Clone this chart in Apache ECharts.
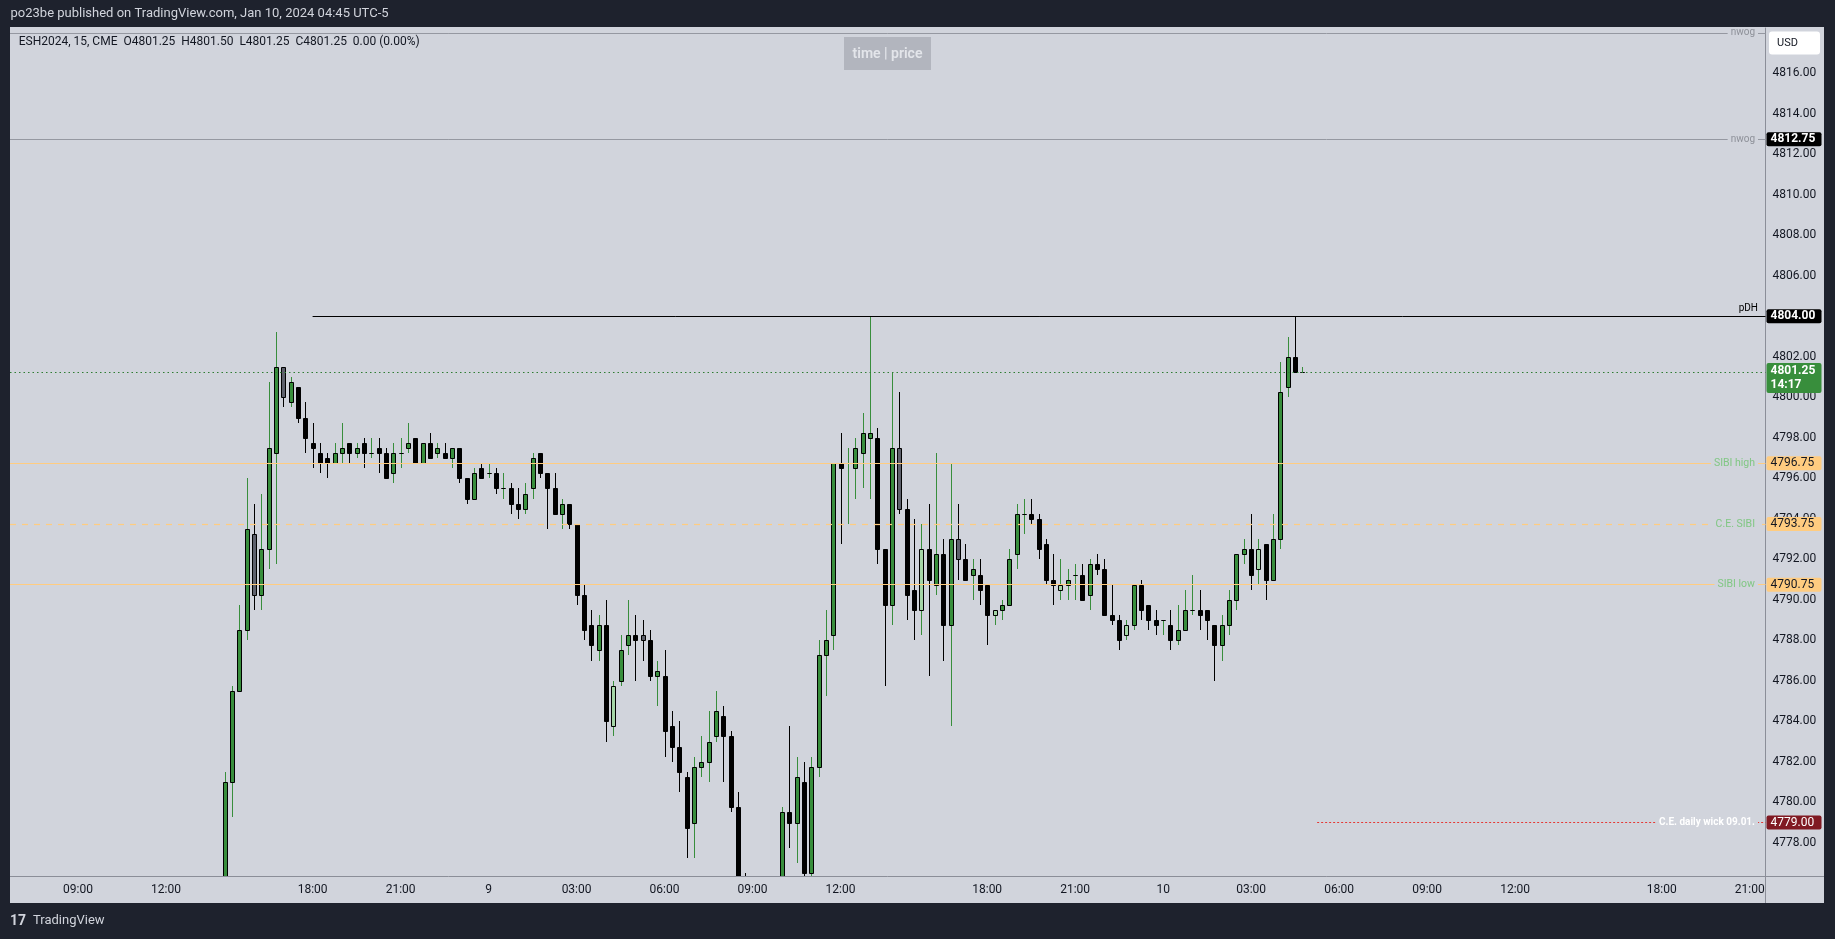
<!DOCTYPE html>
<html><head><meta charset="utf-8">
<script src="https://cdn.jsdelivr.net/npm/echarts@6/dist/echarts.min.js"></script>
<style>html,body{margin:0;padding:0;background:#1e222d;overflow:hidden}#c{width:1835px;height:939px}</style>
</head><body><div id="c"></div>
<script>
// ---- DATA ----
// bar index: 0 = Jan 8 09:00, 15-minute bars, daily CME break (17:00-18:00) removed
const barIndex = [20,21,22,23,24,25,26,27,28,29,30,31,32,33,34,35,36,37,38,39,40,41,42,43,44,45,46,47,48,49,
  50,51,52,53,54,55,56,57,58,59,60,61,62,63,64,65,66,67,68,69,70,71,72,73,74,75,76,77,78,79,
  80,81,82,83,84,85,86,87,88,89,90,91,96,97,98,99,100,101,102,103,104,105,106,107,108,109,
  110,111,112,113,114,115,116,117,118,119,120,121,122,123,124,125,126,127,128,129,130,131,132,133,134,135,136,137,138,139,
  140,141,142,143,144,145,146,147,148,149,150,151,152,153,154,155,156,157,158,159,160,161,162,163,164,165,166,167];
const opens = [4775.75,4781.0,4785.5,4788.5,4793.25,4790.25,4792.5,4797.25,4801.5,4799.75,4800.5,4799.0,4797.75,4797.25,4797.0,4796.75,4797.25,4797.75,4797.25,4797.75,4797.25,4797.5,4797.25,4796.25,4797.25,4797.5,4798.0,4796.75,4797.75,4797.25,
  4797.25,4797.0,4797.5,4796.0,4795.0,4796.5,4796.25,4796.25,4795.5,4795.5,4794.75,4794.5,4795.5,4797.25,4796.25,4795.5,4794.25,4794.75,4793.75,4790.25,4788.75,4787.5,4788.75,4783.75,4786.0,4787.75,4788.25,4788.25,4788.0,4786.25,
  4786.25,4783.75,4782.75,4781.25,4779.0,4781.75,4782.0,4783.25,4784.25,4783.25,4779.75,4775.75,4775.5,4779.5,4779.0,4781.0,4776.5,4781.75,4787.25,4788.25,4796.75,4796.75,4796.5,4797.25,4798.0,4798.0,
  4792.5,4789.75,4797.5,4794.5,4790.5,4789.5,4792.5,4790.75,4792.25,4788.75,4793.0,4792.0,4791.25,4791.25,4790.75,4789.25,4789.5,4789.75,4792.25,4794.25,4794.25,4794.0,4792.75,4791.0,4790.5,4790.75,4791.25,4791.25,4790.25,4791.75,
  4791.5,4789.25,4789.0,4788.25,4788.75,4790.75,4789.75,4789.0,4789.0,4788.75,4788.0,4788.5,4789.5,4789.5,4789.5,4788.75,4787.75,4788.75,4790.0,4792.25,4792.5,4791.5,4792.75,4791.0,4793.0,4800.5,4802.0,4801.25];
const closes = [4781.0,4785.5,4788.5,4793.5,4790.25,4792.5,4797.5,4801.5,4800.0,4800.75,4799.0,4798.0,4797.5,4796.75,4796.75,4797.25,4797.5,4797.25,4797.5,4797.25,4797.25,4797.25,4796.0,4797.25,4797.25,4797.75,4796.75,4797.75,4797.0,4797.5,
  4797.0,4797.5,4796.0,4795.0,4796.25,4796.0,4796.25,4795.5,4795.5,4794.75,4794.5,4795.25,4797.0,4796.25,4795.5,4794.25,4794.75,4793.75,4790.25,4788.5,4787.75,4788.75,4784.0,4785.75,4787.5,4788.25,4788.0,4788.0,4786.25,4786.5,
  4783.5,4782.75,4781.5,4778.75,4781.75,4782.0,4783.0,4784.5,4783.25,4779.75,4775.75,4775.0,4779.5,4779.0,4781.25,4776.5,4781.75,4787.25,4788.0,4796.75,4796.5,4796.75,4797.5,4798.25,4798.25,4792.5,
  4789.75,4797.5,4794.5,4790.25,4789.5,4792.5,4791.0,4792.25,4788.75,4793.0,4792.0,4791.0,4791.5,4790.5,4789.25,4789.5,4789.75,4792.0,4794.25,4794.25,4794.0,4792.5,4791.0,4790.75,4790.75,4791.0,4791.25,4790.0,4791.75,4791.5,
  4789.25,4789.0,4788.0,4788.75,4790.75,4789.5,4789.0,4788.75,4789.0,4788.0,4788.5,4789.5,4789.5,4789.25,4789.0,4787.75,4788.75,4790.0,4792.25,4792.5,4791.25,4792.5,4791.0,4793.0,4800.25,4802.0,4801.25,4801.25];
const lows = [4775.5,4779.25,4785.5,4788.0,4789.5,4789.5,4791.5,4791.75,4799.5,4799.5,4798.75,4797.25,4796.5,4796.25,4796.0,4796.75,4796.75,4796.75,4797.0,4796.5,4797.0,4796.25,4796.0,4795.75,4796.5,4797.25,4796.75,4796.75,4797.0,4797.0,
  4797.0,4796.5,4795.75,4794.75,4795.0,4796.0,4796.0,4795.25,4795.0,4794.25,4794.0,4794.25,4795.0,4796.0,4793.5,4794.25,4793.5,4793.5,4789.75,4788.0,4787.0,4787.0,4783.0,4783.25,4785.75,4787.25,4786.0,4787.0,4786.0,4784.75,
  4782.25,4782.0,4780.5,4777.25,4777.25,4781.25,4781.0,4783.0,4781.0,4779.5,4775.25,4774.5,4775.0,4777.75,4777.0,4776.25,4776.25,4781.25,4785.25,4787.5,4792.75,4793.75,4795.0,4795.5,4795.0,4791.75,
  4785.75,4788.75,4794.25,4789.0,4788.0,4788.25,4786.25,4790.25,4787.0,4783.75,4791.0,4791.0,4790.0,4789.75,4787.75,4788.75,4789.0,4789.75,4791.5,4793.25,4793.75,4792.0,4790.75,4789.75,4790.0,4790.0,4790.0,4790.0,4789.5,4791.25,
  4789.25,4788.75,4787.5,4788.0,4788.5,4789.0,4788.5,4788.25,4788.25,4787.5,4787.75,4788.5,4789.25,4788.5,4788.0,4786.0,4787.0,4788.25,4789.5,4791.75,4790.5,4790.75,4790.0,4791.0,4792.5,4800.0,4801.25,4801.25];
const highs = [4781.5,4785.75,4789.75,4796.0,4794.75,4795.25,4800.75,4803.25,4801.5,4801.0,4800.5,4799.75,4798.75,4797.75,4797.25,4797.75,4798.75,4797.75,4797.75,4798.0,4798.0,4798.0,4797.5,4797.75,4798.0,4798.75,4798.0,4797.75,4798.25,4797.75,
  4797.75,4797.5,4797.5,4796.0,4796.5,4796.75,4796.75,4796.5,4796.25,4795.75,4795.5,4795.75,4797.25,4797.25,4796.25,4796.25,4795.0,4794.75,4793.75,4790.75,4789.5,4789.25,4790.0,4786.0,4788.25,4790.0,4789.25,4789.0,4788.5,4787.0,
  4787.5,4784.5,4784.0,4781.5,4782.25,4783.25,4784.5,4785.5,4784.75,4783.5,4780.5,4776.5,4779.75,4783.75,4782.25,4782.0,4782.25,4788.0,4789.5,4796.75,4798.25,4797.5,4798.0,4799.25,4804.0,4798.5,
  4792.5,4801.25,4800.25,4795.0,4794.0,4793.75,4794.75,4797.25,4793.0,4796.75,4794.75,4792.75,4792.0,4792.0,4790.75,4789.5,4790.0,4792.5,4794.75,4795.0,4795.0,4794.25,4793.0,4792.25,4792.0,4791.5,4791.75,4791.75,4792.0,4792.25,
  4792.0,4790.75,4789.25,4789.0,4790.75,4791.0,4789.75,4789.5,4789.0,4789.5,4789.75,4790.5,4791.25,4790.5,4789.5,4788.75,4789.25,4790.5,4792.25,4793.0,4794.25,4793.0,4792.75,4794.25,4801.75,4803.0,4804.0,4801.5];
const greyBars = [24, 28, 77, 112, 120];
const lightBars = [73, 115, 125, 134, 143, 161];
const timeTickIndex = [0,12,32,44,56,68,80,92,104,124,136,148,160,172,184,196,216,228];
const timeTickLabels = ['09:00','12:00','18:00','21:00','9','03:00','06:00','09:00','12:00','18:00','21:00','10','03:00','06:00','09:00','12:00','18:00','21:00'];
const priceTicks = [4778,4780,4782,4784,4786,4788,4790,4792,4794,4796,4798,4800,4802,4804,4806,4808,4810,4812,4814,4816];
const levelNames = ['nwog','nwog','pDH','SIBI high','C.E. SIBI','SIBI low','C.E. daily wick 09.01.'];
const levelPrices = [4818.0, 4812.75, 4804.0, 4796.75, 4793.75, 4790.75, 4779.0];
const levelStart = [null, null, 32, null, null, null, 169];
const lastPrice = 4801.25;
const countdown = '14:17';
const headerText = 'po23be published on TradingView.com, Jan 10, 2024 04:45 UTC-5';
const legendText = 'ESH2024, 15, CME  O4801.25  H4801.50  L4801.25  C4801.25  0.00 (0.00%)';

// ---- STYLE ----
const FONT = 'Roboto, "Liberation Sans", sans-serif';
const PANEL = '#d1d4dc', DARK = '#1e222d', GREEN = '#388e3c', LIGHT = '#a5d6a7', GREY = '#5d606b', INK = '#131722';
const ORANGE = '#ffcc80', LBLGREEN = '#81c784', DRED = '#801922';
const X_MIN = -9.27, X_MAX = 230.15, Y_MIN = 4776.36, Y_MAX = 4818.24;

const candles = barIndex.map((x, i) => [x, opens[i], closes[i], lows[i], highs[i],
  greyBars.includes(x) ? 1 : (lightBars.includes(x) ? 2 : 0)]);

function renderItem(params, api) {
  const x = api.value(0), o = api.value(1), c = api.value(2), l = api.value(3), h = api.value(4), v = api.value(5);
  const po = api.coord([x, o]), pc = api.coord([x, c]), pl = api.coord([x, l]), ph = api.coord([x, h]);
  const cx = Math.round(po[0]);
  const up = c >= o;
  let fill = up ? GREEN : '#000';
  if (v === 1) fill = GREY; else if (v === 2) fill = LIGHT;
  const wick = up ? GREEN : '#000';
  const top = Math.round(Math.min(po[1], pc[1])), bot = Math.round(Math.max(po[1], pc[1]));
  return { type: 'group', children: [
    { type: 'line', shape: { x1: cx + 0.5, y1: Math.round(ph[1]), x2: cx + 0.5, y2: Math.round(pl[1]) }, style: { stroke: wick, lineWidth: 1 } },
    { type: 'rect', shape: { x: cx - 1.5, y: top + 0.5, width: 4, height: bot - top }, style: { fill: fill, stroke: '#000', lineWidth: 1 } }
  ]};
}

function axisBox(bg, fg, bold) {
  return { show: true, position: 'end', distance: 1, backgroundColor: bg, color: fg, fontFamily: FONT,
    fontSize: 12, fontWeight: bold ? 'bold' : 'normal', padding: [1, 4, 1, 4], width: 47, borderRadius: 2 };
}
function lvLine(i) {
  if (levelStart[i] === null) return { yAxis: levelPrices[i] };
  return [{ coord: [levelStart[i], levelPrices[i]] }, { coord: [X_MAX, levelPrices[i]] }];
}
function withStyle(item, lineStyle, label) {
  if (Array.isArray(item)) { item[0].lineStyle = lineStyle; item[0].label = label; return item; }
  item.lineStyle = lineStyle; item.label = label; return item;
}
const fmt = v => v.toFixed(2);
const markData = [
  withStyle(lvLine(0), { color: '#9598a1', width: 1, type: 'solid' }, { show: false }),
  withStyle(lvLine(1), { color: '#9598a1', width: 1, type: 'solid' }, Object.assign(axisBox('#000', '#fff', true), { formatter: fmt(levelPrices[1]) })),
  withStyle(lvLine(2), { color: '#000', width: 1, type: 'solid' }, Object.assign(axisBox('#000', '#fff', true), { formatter: fmt(levelPrices[2]) })),
  withStyle({ yAxis: lastPrice }, { color: '#2e7d32', width: 1, type: [1.5, 3] },
    Object.assign(axisBox(GREEN, '#fff', true), { formatter: fmt(lastPrice) + '\n' + countdown, lineHeight: 14, padding: [1, 4, 1, 4], offset: [0, 6] })),
  withStyle(lvLine(3), { color: ORANGE, width: 1.2, type: 'solid' }, Object.assign(axisBox(ORANGE, INK, false), { formatter: fmt(levelPrices[3]) })),
  withStyle(lvLine(4), { color: ORANGE, width: 1.2, type: [6, 6] }, Object.assign(axisBox(ORANGE, INK, false), { formatter: fmt(levelPrices[4]) })),
  withStyle(lvLine(5), { color: ORANGE, width: 1.2, type: 'solid' }, Object.assign(axisBox(ORANGE, INK, false), { formatter: fmt(levelPrices[5]) })),
  withStyle(lvLine(6), { color: '#e53935', width: 1, type: [2, 2] }, Object.assign(axisBox(DRED, '#fff', false), { formatter: fmt(levelPrices[6]) }))
];

const chart = echarts.init(document.getElementById('c'), null, { renderer: 'canvas' });
chart.setOption({
  animation: false,
  backgroundColor: PANEL,
  textStyle: { fontFamily: FONT },
  grid: { left: 10, right: 69.5, top: 28, bottom: 63, containLabel: false },
  xAxis: {
    type: 'value', min: X_MIN, max: X_MAX,
    axisLine: { show: true, onZero: false, lineStyle: { color: '#8b8e98', width: 1 } },
    axisTick: { show: false }, splitLine: { show: false },
    axisLabel: { customValues: timeTickIndex, formatter: v => timeTickLabels[timeTickIndex.indexOf(v)],
      color: INK, fontSize: 12, margin: 8, fontFamily: FONT }
  },
  yAxis: {
    type: 'value', position: 'right', min: Y_MIN, max: Y_MAX,
    axisLine: { show: true, onZero: false, lineStyle: { color: '#8b8e98', width: 1 } },
    axisTick: { show: false }, splitLine: { show: false },
    axisLabel: { customValues: priceTicks, formatter: v => v.toFixed(2), color: INK, fontSize: 12, margin: 7, fontFamily: FONT }
  },
  series: [
    { type: 'line', data: [], silent: true, z: 3,
      markLine: { silent: true, symbol: ['none', 'none'], animation: false, precision: 2, data: markData } },
    { type: 'custom', renderItem: renderItem, data: candles, clip: true, z: 4,
      encode: { x: 0, y: [1, 2, 3, 4] } }
  ]
});

// overlay texts positioned through the library's scale
const yPix = p => chart.convertToPixel({ yAxisIndex: 0 }, p);
const LBL_RIGHT = 1758;
const lineLabels = [];
const lblStyle = [
  { fill: '#8e9199', fontSize: 10, bg: true, bold: false },
  { fill: '#8e9199', fontSize: 10, bg: true, bold: false },
  { fill: '#000', fontSize: 10, bg: false, bold: false, above: true },
  { fill: LBLGREEN, fontSize: 10.5, bg: true, bold: false },
  { fill: LBLGREEN, fontSize: 10.5, bg: true, bold: false },
  { fill: LBLGREEN, fontSize: 10.5, bg: true, bold: false },
  { fill: '#fff', fontSize: 10, bg: true, bold: true }
];
levelNames.forEach((name, i) => {
  const s = lblStyle[i];
  const y = yPix(levelPrices[i]);
  lineLabels.push({ type: 'text', z: 50, x: LBL_RIGHT, y: s.above ? y - 8 : y,
    style: { text: name, fill: s.fill, font: (s.bold ? 'bold ' : '') + s.fontSize + 'px ' + FONT,
      align: 'right', verticalAlign: 'middle', backgroundColor: s.bg ? PANEL : null, padding: s.bg ? [0, 3, 0, 3] : 0 } });
});

chart.setOption({
  graphic: [
    // dark frame
    { type: 'rect', z: 40, shape: { x: 0, y: 0, width: 1835, height: 27 }, style: { fill: DARK } },
    { type: 'rect', z: 40, shape: { x: 0, y: 0, width: 10, height: 939 }, style: { fill: DARK } },
    { type: 'rect', z: 40, shape: { x: 1824, y: 0, width: 11, height: 939 }, style: { fill: DARK } },
    { type: 'rect', z: 40, shape: { x: 0, y: 903, width: 1835, height: 36 }, style: { fill: DARK } },
    // axis extensions
    { type: 'line', z: 30, shape: { x1: 1765.5, y1: 876.5, x2: 1824, y2: 876.5 }, style: { stroke: '#8b8e98', lineWidth: 1 } },
    { type: 'line', z: 30, shape: { x1: 1765.5, y1: 876, x2: 1765.5, y2: 903 }, style: { stroke: '#8b8e98', lineWidth: 1 } },
    // header + footer
    { type: 'text', z: 60, x: 10.5, y: 13.5, style: { text: headerText, fill: '#d1d4dc', font: '13px ' + FONT, verticalAlign: 'middle' } },
    { type: 'text', z: 60, x: 10, y: 921, style: { text: '17', fill: '#d1d4dc', font: 'bold 14px ' + FONT, verticalAlign: 'middle' } },
    { type: 'text', z: 60, x: 33, y: 921, style: { text: 'TradingView', fill: '#d1d4dc', font: '13px ' + FONT, verticalAlign: 'middle' } },
    // legend
    { type: 'text', z: 60, x: 18.7, y: 41.5, style: { text: legendText, fill: INK, font: '12px ' + FONT, verticalAlign: 'middle' } },
    // time | price button
    { type: 'rect', z: 60, shape: { x: 844, y: 37, width: 87, height: 33 }, style: { fill: '#b2b5be' } },
    { type: 'text', z: 61, x: 887.5, y: 54, style: { text: 'time | price', fill: '#e3e5ea', font: '600 14px ' + FONT, align: 'center', verticalAlign: 'middle' } },
    // USD button
    { type: 'rect', z: 60, shape: { x: 1769, y: 31.5, width: 51, height: 23, r: 3 }, style: { fill: '#ffffff' } },
    { type: 'text', z: 61, x: 1777, y: 43.5, style: { text: 'USD', fill: INK, font: '11px ' + FONT, verticalAlign: 'middle' } }
  ].concat(lineLabels)
});
</script></body></html>
